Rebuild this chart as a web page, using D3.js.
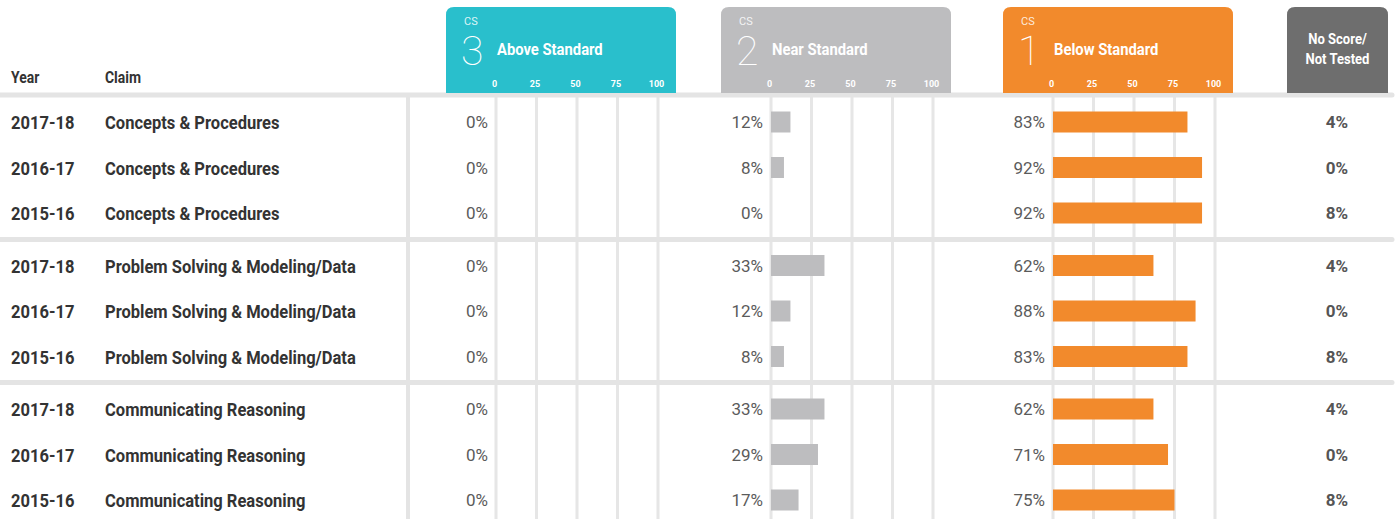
<!DOCTYPE html>
<html>
<head>
<meta charset="utf-8">
<script src="https://cdn.jsdelivr.net/npm/d3@7"></script>
<style>
  body { margin: 0; background: #fff; }
  svg { display: block; font-family: Roboto, "Open Sans", sans-serif; }
</style>
</head>
<body>
<div class="chart"></div>
<script>
// data
const claims = ["Concepts & Procedures", "Problem Solving & Modeling/Data", "Communicating Reasoning"];
const years = ["2017-18", "2016-17", "2015-16"];
const aboveStd = [0, 0, 0, 0, 0, 0, 0, 0, 0];
const nearStd = [12, 8, 0, 33, 12, 8, 33, 29, 17];
const belowStd = [83, 92, 92, 62, 88, 83, 62, 71, 75];
const noScore = [4, 0, 8, 4, 0, 8, 4, 0, 8];
const tickVals = [0, 25, 50, 75, 100];

const rows = [];
claims.forEach((c, g) => years.forEach((y, r) => rows.push({ claim: c, year: y, i: g * 3 + r })));

const W = 1398, H = 519;
const sep = "#e4e4e4";
const cond = 0.87; // squeeze roboto a little, reference uses a condensed face

const panels = [
  { num: "3", label: "Above Standard", color: "#29bfcc", values: aboveStd, x0: 496 },
  { num: "2", label: "Near Standard", color: "#bdbdbf", values: nearStd, x0: 771 },
  { num: "1", label: "Below Standard", color: "#f28a2c", values: belowStd, x0: 1053 }
];

const groupY = d3.scalePoint().domain(claims).range([122, 409]);
const rowY = d3.scalePoint().domain(years).range([0, 91]);
const yOf = d => groupY(d.claim) + rowY(d.year);

const svg = d3.select(".chart").append("svg")
    .attr("width", W)
    .attr("height", H);

// panel gridlines first so separators sit on top
panels.forEach(p => {
  p.x = d3.scaleLinear().domain([0, 100]).range([p.x0, p.x0 + 162]);
  svg.append("g").selectAll("line")
      .data(tickVals)
      .enter().append("line")
      .attr("x1", d => p.x(d)).attr("x2", d => p.x(d))
      .attr("y1", 90).attr("y2", H)
      .attr("stroke", "#e6e6e6")
      .attr("stroke-width", 3);
});

// vertical divider after the claim column
svg.append("line")
    .attr("x1", 408).attr("x2", 408)
    .attr("y1", 95).attr("y2", H)
    .attr("stroke", sep).attr("stroke-width", 4);

// horizontal separators: header + between claim groups
const sepY = [95, 239.5, 382.5];
svg.append("g").selectAll("line")
    .data(sepY)
    .enter().append("line")
    .attr("x1", 0).attr("x2", 1392)
    .attr("y1", d => d).attr("y2", d => d)
    .attr("stroke", sep)
    .attr("stroke-width", 5)
    .attr("stroke-linecap", "round");

// header boxes
const roundTop = (x, y, w, h, r) =>
  `M${x},${y + h}V${y + r}Q${x},${y} ${x + r},${y}H${x + w - r}Q${x + w},${y} ${x + w},${y + r}V${y + h}Z`;

panels.forEach(p => {
  const bx = p.x0 - 50, bw = 230;
  const hg = svg.append("g");
  hg.append("path")
      .attr("d", roundTop(bx, 7, bw, 86, 8))
      .attr("fill", p.color);
  hg.append("text")
      .attr("x", bx + 18).attr("y", 25)
      .attr("fill", "#fff").attr("fill-opacity", 0.85)
      .style("font-size", "11px")
      .text("CS");
  hg.append("text")
      .attr("x", bx + 15).attr("y", 65)
      .attr("fill", "#fff")
      .style("font-size", "41px").style("font-weight", 100)
      .text(p.num);
  hg.append("text")
      .attr("transform", `translate(${p.x0 + 1},55) scale(${cond},1)`)
      .attr("fill", "#fff")
      .style("font-size", "17px").style("font-weight", 700)
      .text(p.label);

  const ax = hg.append("g")
      .attr("transform", "translate(-2,78)")
      .call(d3.axisBottom(p.x).tickValues(tickVals).tickSize(0).tickPadding(3));
  ax.select(".domain").remove();
  ax.selectAll("text")
      .attr("fill", "#fff")
      .style("font-family", "Roboto, sans-serif")
      .style("font-size", "9px").style("font-weight", 700);

  // bars
  svg.append("g").selectAll("rect")
      .data(rows)
      .enter().append("rect")
      .attr("x", p.x(0))
      .attr("y", d => yOf(d) - 10.5)
      .attr("width", d => p.x(p.values[d.i]) - p.x(0))
      .attr("height", 21)
      .attr("fill", p.color);

  svg.append("g").selectAll("text")
      .data(rows)
      .enter().append("text")
      .attr("x", p.x(0) - 8)
      .attr("y", d => yOf(d) + 6)
      .attr("text-anchor", "end")
      .attr("fill", "#5b5b5b")
      .style("font-size", "17px")
      .text(d => p.values[d.i] + "%");
});

// no score box
svg.append("path")
    .attr("d", roundTop(1287, 7, 101, 86, 8))
    .attr("fill", "#6e6e6e");
svg.append("g").selectAll("text")
    .data(["No Score/", "Not Tested"])
    .enter().append("text")
    .attr("transform", (d, i) => `translate(1337.5,${44 + i * 20}) scale(${cond},1)`)
    .attr("text-anchor", "middle")
    .attr("fill", "#fff")
    .style("font-size", "15px").style("font-weight", 700)
    .text(d => d);

svg.append("g").selectAll("text")
    .data(rows)
    .enter().append("text")
    .attr("x", 1337)
    .attr("y", d => yOf(d) + 6)
    .attr("text-anchor", "middle")
    .attr("fill", "#555")
    .style("font-size", "17px").style("font-weight", 700)
    .text(d => noScore[d.i] + "%");

// left columns
const hdr = svg.append("g")
    .attr("fill", "#333")
    .style("font-size", "16px").style("font-weight", 700);
hdr.append("text").attr("transform", `translate(11,83) scale(${cond},1)`).text("Year");
hdr.append("text").attr("transform", `translate(105,83) scale(${cond},1)`).text("Claim");

svg.append("g").selectAll("text")
    .data(rows)
    .enter().append("text")
    .attr("transform", d => `translate(11,${yOf(d) + 7}) scale(${cond},1)`)
    .attr("fill", "#333")
    .style("font-size", "19px").style("font-weight", 700)
    .text(d => d.year);

svg.append("g").selectAll("text")
    .data(rows)
    .enter().append("text")
    .attr("transform", d => `translate(105,${yOf(d) + 7}) scale(${cond},1)`)
    .attr("fill", "#333")
    .style("font-size", "19px").style("font-weight", 700)
    .text(d => d.claim);
</script>
</body>
</html>
